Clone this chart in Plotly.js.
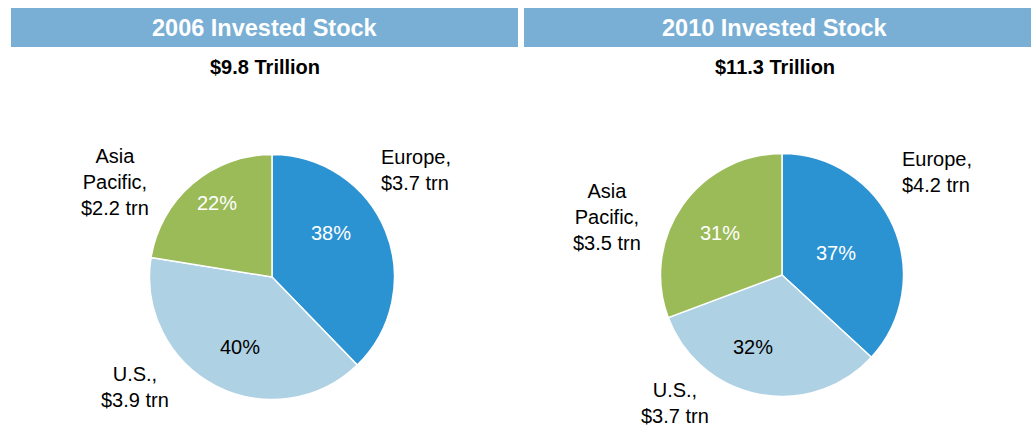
<!DOCTYPE html>
<html>
<head>
<meta charset="utf-8">
<script src="https://cdn.plot.ly/plotly-3.0.1.min.js"></script>
<style>html,body{margin:0;padding:0;background:#fff;}#chart{width:1031px;height:426px;}</style>
</head>
<body>
<div id="chart"></div>
<script>
// ---- data ----
const regions = ["Europe", "U.S.", "Asia Pacific"];
const labelText = ["Europe,", "U.S.,", "Asia<br>Pacific,"];
const values2006 = [3.7, 3.9, 2.2];
const values2010 = [4.2, 3.7, 3.5];
const panelTitles = ["2006 Invested Stock", "2010 Invested Stock"];
const totals = ["$9.8 Trillion", "$11.3 Trillion"];
const sliceColors = ["#2C93D3", "#AFD1E4", "#9BBB59"];
const pctColors = ["#ffffff", "#000000", "#ffffff"];

const W = 1031, H = 426;
const px = x => x / W;
const py = y => 1 - y / H;

function domainFor(cx, cy, r) {
  return { x: [px(cx - r), px(cx + r)], y: [py(cy + r), py(cy - r)] };
}

const pies = [
  { values: values2006, cx: 272, cy: 277, r: 122.5 },
  { values: values2010, cx: 782, cy: 275, r: 121.5 }
];

const traces = pies.map(p => ({
  type: "pie",
  labels: regions,
  values: p.values,
  sort: false,
  direction: "clockwise",
  rotation: 0,
  textinfo: "none",
  hoverinfo: "label+value+percent",
  marker: { colors: sliceColors, line: { color: "#ffffff", width: 1.5 } },
  domain: domainFor(p.cx, p.cy, p.r),
  showlegend: false
}));

// label & percentage placement (pixel positions, layout only)
const labelPos = [
  [[416, 170, "left"], [135, 387, "center"], [115, 182, "center"]],
  [[937, 172, "left"], [675, 403, "center"], [607, 217, "center"]]
];
const pctPos = [
  [[331, 233], [240, 347], [217, 203]],
  [[836, 253], [753, 347], [720, 233]]
];

const font = "Liberation Sans, Arial, sans-serif";
const annotations = [];
pies.forEach((p, i) => {
  const total = p.values.reduce((a, b) => a + b, 0);
  p.values.forEach((v, j) => {
    annotations.push({
      xref: "paper", yref: "paper",
      x: px(labelPos[i][j][0]), y: py(labelPos[i][j][1]),
      xanchor: "center", yanchor: "middle", align: labelPos[i][j][2],
      text: labelText[j] + "<br>$" + v.toFixed(1) + " trn",
      showarrow: false,
      font: { family: font, size: 20, color: "#000000" }
    });
    annotations.push({
      xref: "paper", yref: "paper",
      x: px(pctPos[i][j][0]), y: py(pctPos[i][j][1]),
      xanchor: "center", yanchor: "middle",
      text: Math.round(v / total * 100) + "%",
      showarrow: false,
      font: { family: font, size: 20, color: pctColors[j] }
    });
  });
});

const bars = [[11, 518], [524, 1031]];
const shapes = bars.map(b => ({
  type: "rect", xref: "paper", yref: "paper",
  x0: px(b[0]), x1: px(b[1]), y0: py(47), y1: py(8),
  fillcolor: "#79AFD5", line: { width: 0 }, layer: "below"
}));

bars.forEach((b, i) => {
  annotations.push({
    xref: "paper", yref: "paper",
    x: px((b[0] + b[1]) / 2 - (i === 1 ? 3 : 0)), y: py(28),
    xanchor: "center", yanchor: "middle",
    text: "<b>" + panelTitles[i] + "</b>", showarrow: false,
    font: { family: font, size: 23.5, color: "#ffffff" }
  });
  annotations.push({
    xref: "paper", yref: "paper",
    x: px((b[0] + b[1]) / 2 - (i === 1 ? 3 : 0)), y: py(67),
    xanchor: "center", yanchor: "middle",
    text: "<b>" + totals[i] + "</b>", showarrow: false,
    font: { family: font, size: 20, color: "#000000" }
  });
});

const layout = {
  width: W, height: H,
  margin: { l: 0, r: 0, t: 0, b: 0 },
  paper_bgcolor: "#ffffff",
  showlegend: false,
  shapes: shapes,
  annotations: annotations
};

Plotly.newPlot("chart", traces, layout, { displayModeBar: false, staticPlot: true });
</script>
</body>
</html>
